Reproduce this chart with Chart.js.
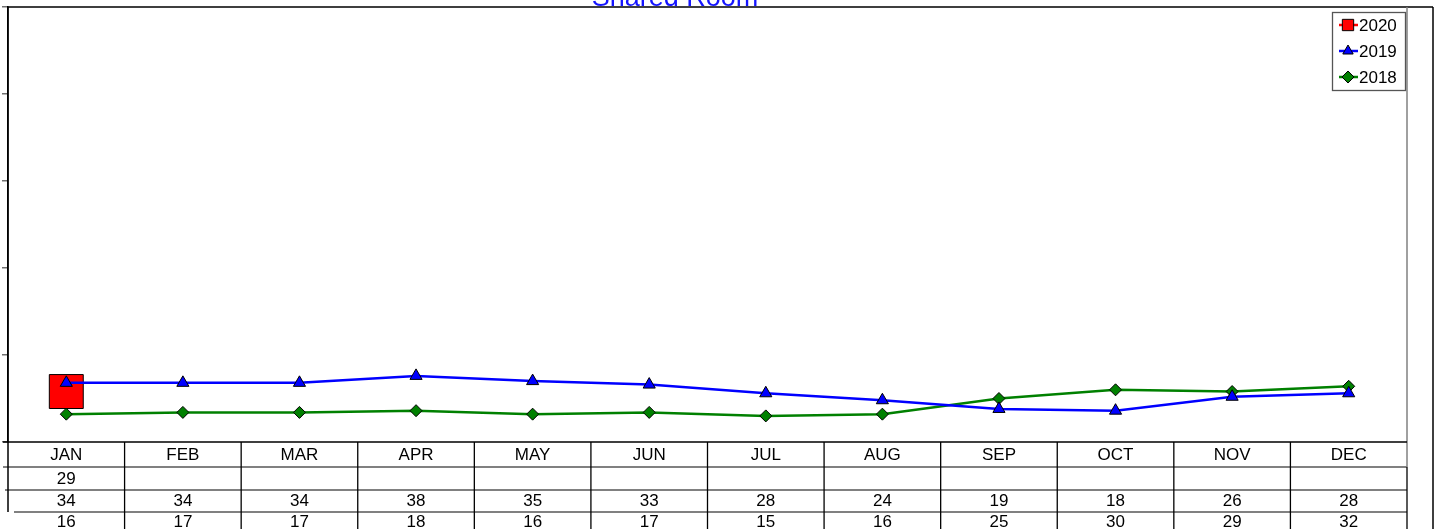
<!DOCTYPE html>
<html>
<head>
<meta charset="utf-8">
<script src="https://cdn.jsdelivr.net/npm/chart.js@4/dist/chart.umd.min.js"></script>
<style>
  html, body { margin: 0; padding: 0; background: #fff; overflow: hidden; }
  canvas { display: block; }
</style>
</head>
<body>
<canvas id="chart" width="1438" height="529"></canvas>
<script>
// datos del grafico
const months = ['JAN', 'FEB', 'MAR', 'APR', 'MAY', 'JUN', 'JUL', 'AUG', 'SEP', 'OCT', 'NOV', 'DEC'];
const years = ['2020', '2019', '2018'];
const values2020 = [29, null, null, null, null, null, null, null, null, null, null, null];
const values2019 = [34, 34, 34, 38, 35, 33, 28, 24, 19, 18, 26, 28];
const values2018 = [16, 17, 17, 18, 16, 17, 15, 16, 25, 30, 29, 32];
const yTicks = [0, 50, 100, 150, 200, 250];

const FONT = '"Liberation Sans", Arial, sans-serif';
const seriesValues = [values2020, values2019, values2018];

// titulo, marco, leyenda y tabla de datos
const extras = {
    id: 'extras',
    afterDraw(chart) {
        const ctx = chart.ctx;
        const area = chart.chartArea;
        const x = chart.scales.x;
        const colW = (area.right - area.left) / months.length;

        ctx.save();

        // marco exterior
        ctx.strokeStyle = '#000';
        ctx.lineWidth = 1.5;
        ctx.beginPath();
        ctx.moveTo(area.left, area.top);
        ctx.lineTo(1433, area.top);
        ctx.moveTo(1433, area.top);
        ctx.lineTo(1433, 529);
        ctx.stroke();

        ctx.strokeStyle = '#808080';
        ctx.lineWidth = 1.5;
        ctx.beginPath();
        ctx.moveTo(area.right, area.top);
        ctx.lineTo(area.right, 467);
        ctx.stroke();

        // titulo
        ctx.fillStyle = '#1515ff';
        ctx.font = '27px ' + FONT;
        ctx.textAlign = 'center';
        ctx.textBaseline = 'alphabetic';
        ctx.fillText('Shared Room', 675, 6);

        // tabla
        const rowLines = [467, 490, 512];
        const rowStarts = [3, 5, 14];
        ctx.strokeStyle = '#808080';
        ctx.lineWidth = 1.8;
        rowLines.forEach((y, i) => {
            ctx.beginPath();
            ctx.moveTo(rowStarts[i], y);
            ctx.lineTo(area.right, y);
            ctx.stroke();
        });

        ctx.strokeStyle = '#000';
        ctx.lineWidth = 1.5;
        ctx.beginPath();
        ctx.moveTo(3, area.bottom);
        ctx.lineTo(area.right, area.bottom);
        ctx.moveTo(area.left, area.top);
        ctx.lineTo(area.left, 512);
        ctx.stroke();

        ctx.lineWidth = 1.3;
        for (let i = 1; i <= months.length; i++) {
            const bx = x.getPixelForValue(i - 1) + colW / 2;
            ctx.beginPath();
            ctx.moveTo(bx, i === months.length ? 467 : area.bottom);
            ctx.lineTo(bx, 529);
            ctx.stroke();
        }

        ctx.fillStyle = '#000';
        ctx.font = '17px ' + FONT;
        ctx.textBaseline = 'middle';
        const rowY = [479, 501, 522];
        months.forEach((m, i) => {
            const cx = x.getPixelForValue(i);
            ctx.fillText(m, cx, 455);
            seriesValues.forEach((vals, r) => {
                if (vals[i] !== null) ctx.fillText(String(vals[i]), cx, rowY[r]);
            });
        });

        // leyenda
        const lx = 1332, ly = 12, lw = 73, lh = 78;
        ctx.fillStyle = '#fff';
        ctx.fillRect(lx, ly, lw, lh);
        ctx.strokeStyle = '#555';
        ctx.lineWidth = 1.3;
        ctx.strokeRect(lx + 0.5, ly + 0.5, lw, lh);

        chart.data.datasets.forEach((ds, i) => {
            const cy = 25 + i * 26;
            ctx.strokeStyle = ds.borderColor;
            ctx.lineWidth = 2.5;
            ctx.beginPath();
            ctx.moveTo(lx + 7, cy);
            ctx.lineTo(lx + 26, cy);
            ctx.stroke();
            ctx.fillStyle = ds.pointBackgroundColor;
            ctx.strokeStyle = '#000';
            ctx.lineWidth = 1;
            Chart.helpers.drawPoint(ctx, {
                pointStyle: ds.pointStyle,
                rotation: 0,
                borderWidth: 1,
                radius: ds.pointStyle === 'rect' ? 8 : 6
            }, lx + 16, cy);
            ctx.fillStyle = '#000';
            ctx.font = '17px ' + FONT;
            ctx.textAlign = 'left';
            ctx.textBaseline = 'middle';
            ctx.fillText(ds.label, lx + 27, cy + 1);
        });

        ctx.restore();
    }
};

new Chart(document.getElementById('chart'), {
    type: 'line',
    data: {
        labels: months,
        datasets: [
            {
                label: years[0],
                data: values2020,
                borderColor: '#ff0000',
                backgroundColor: '#ff0000',
                pointBackgroundColor: '#ff0000',
                pointBorderColor: '#000',
                pointBorderWidth: 1,
                pointStyle: 'rect',
                pointRadius: 24,
                borderWidth: 2.5,
                order: 3
            },
            {
                label: years[1],
                data: values2019,
                borderColor: '#0000ff',
                backgroundColor: '#0000ff',
                pointBackgroundColor: '#0000ff',
                pointBorderColor: '#000',
                pointBorderWidth: 1,
                pointStyle: 'triangle',
                pointRadius: 7,
                borderWidth: 2.5,
                order: 1
            },
            {
                label: years[2],
                data: values2018,
                borderColor: '#008000',
                backgroundColor: '#008000',
                pointBackgroundColor: '#008000',
                pointBorderColor: '#000',
                pointBorderWidth: 1,
                pointStyle: 'rectRot',
                pointRadius: 6,
                borderWidth: 2.5,
                order: 2
            }
        ]
    },
    options: {
        responsive: false,
        animation: false,
        layout: {
            autoPadding: false,
            padding: { left: 0, top: 7, right: 31, bottom: 87 }
        },
        plugins: {
            legend: { display: false },
            title: { display: false },
            tooltip: { enabled: false }
        },
        scales: {
            x: {
                display: false,
                offset: true
            },
            y: {
                min: yTicks[0],
                max: yTicks[yTicks.length - 1],
                afterBuildTicks: (scale) => {
                    scale.ticks = yTicks.map(v => ({ value: v }));
                },
                afterFit: (scale) => {
                    scale.width = 8;
                },
                ticks: { display: false },
                grid: {
                    drawOnChartArea: false,
                    tickLength: 6,
                    color: '#707070',
                    lineWidth: 1.5
                },
                border: { color: '#000', width: 1.5 }
            }
        }
    },
    plugins: [extras]
});
</script>
</body>
</html>
